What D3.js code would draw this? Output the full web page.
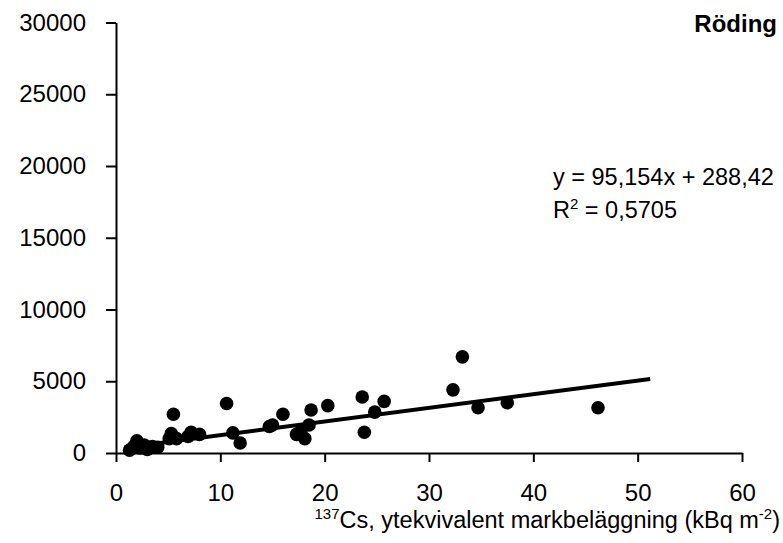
<!DOCTYPE html>
<html>
<head>
<meta charset="utf-8">
<script src="https://cdn.jsdelivr.net/npm/d3@7"></script>
<style>
  html, body { margin: 0; padding: 0; background: #fff; }
  svg { display: block; font-family: "Liberation Sans", Arial, sans-serif; }
</style>
</head>
<body>
<svg id="chart" width="783" height="543"></svg>
<script>
// 137Cs ground deposition (kBq m-2) vs. activity in Arctic char (Röding)
const depositionX = [1.3, 1.7, 2.0, 2.3, 2.7, 3.0, 3.5, 4.0, 5.1, 5.3, 5.5, 5.8, 6.9, 7.2, 8.0,
  10.6, 11.2, 11.9, 14.7, 15.0, 16.0, 17.3, 17.7, 18.1, 18.5, 18.7, 20.3, 23.6, 23.8, 24.8,
  25.7, 32.3, 33.2, 34.7, 37.5, 46.2];
const activityY = [200, 450, 850, 350, 550, 250, 450, 400, 1000, 1350, 2700, 1000, 1150, 1450, 1300,
  3450, 1400, 700, 1850, 1950, 2700, 1300, 1500, 1000, 1950, 3000, 3300, 3900, 1450, 2850,
  3600, 4400, 6700, 3150, 3500, 3150];

const xTicks = [0, 10, 20, 30, 40, 50, 60];
const yTicks = [0, 5000, 10000, 15000, 20000, 25000, 30000];

// Linear trendline
const slope = 95.154;
const intercept = 288.42;
const trendForward = 5;
const equationLabel = "y = 95,154x + 288,42";
const r2Value = "0,5705";
const seriesTitle = "Röding";

const svg = d3.select("#chart");
const plotLeft = 116, plotRight = 742, plotTop = 22.5, plotBottom = 453;

const x = d3.scaleLinear().domain([0, 60]).range([plotLeft, plotRight]);
const y = d3.scaleLinear().domain([0, 30000]).range([plotBottom, plotTop]);

// Axes
const yAxis = d3.axisLeft(y).tickValues(yTicks).tickSize(10).tickSizeOuter(0).tickPadding(20)
  .tickFormat(d3.format("d"));
const xAxis = d3.axisBottom(x).tickValues(xTicks).tickSize(9).tickSizeOuter(0).tickPadding(22)
  .tickFormat(d3.format("d"));

const gy = svg.append("g").attr("transform", `translate(${plotLeft},0)`).call(yAxis);
const gx = svg.append("g").attr("transform", `translate(0,${plotBottom})`).call(xAxis);

[gx, gy].forEach(g => {
  g.selectAll("path.domain").attr("stroke", "#000").attr("stroke-width", 2);
  g.selectAll(".tick line").attr("stroke", "#000").attr("stroke-width", 2);
  g.selectAll(".tick text").attr("fill", "#000").attr("font-size", 24)
    .attr("font-family", "Liberation Sans, Arial, sans-serif");
});

// Data points
svg.append("g").selectAll("circle")
  .data(depositionX.map((d, i) => [d, activityY[i]]))
  .join("circle")
  .attr("cx", d => x(d[0]))
  .attr("cy", d => y(d[1]))
  .attr("r", 6.8)
  .attr("fill", "#000");

// Trendline
const x0 = d3.min(depositionX);
const x1 = d3.max(depositionX) + trendForward;
svg.append("line")
  .attr("x1", x(x0)).attr("y1", y(slope * x0 + intercept))
  .attr("x2", x(x1)).attr("y2", y(slope * x1 + intercept))
  .attr("stroke", "#000").attr("stroke-width", 4);

// Equation and R²
svg.append("text").attr("x", 553).attr("y", 185).attr("font-size", 23.5)
  .text(equationLabel);
const r2 = svg.append("text").attr("x", 553).attr("y", 218).attr("font-size", 23.5);
r2.append("tspan").text("R");
r2.append("tspan").attr("font-size", 15).attr("dy", -9).text("2");
r2.append("tspan").attr("dy", 9).text(" = " + r2Value);

// Series title
svg.append("text").attr("x", 777).attr("y", 32).attr("text-anchor", "end")
  .attr("font-size", 24).attr("font-weight", "bold").text(seriesTitle);

// X-axis title
const xt = svg.append("text").attr("x", 780).attr("y", 528).attr("text-anchor", "end").attr("font-size", 23.5);
xt.append("tspan").attr("font-size", 15).attr("dy", -9).text("137");
xt.append("tspan").attr("dy", 9).text("Cs, ytekvivalent markbeläggning (kBq m");
xt.append("tspan").attr("font-size", 15).attr("dy", -9).text("-2");
xt.append("tspan").attr("dy", 9).text(")");
</script>
</body>
</html>
